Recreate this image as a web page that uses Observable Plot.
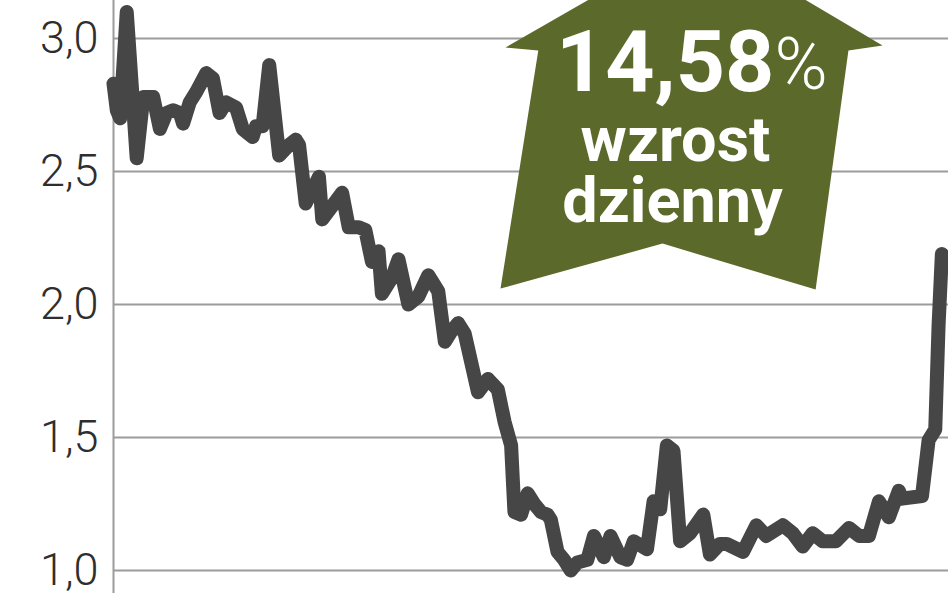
<!DOCTYPE html>
<html>
<head>
<meta charset="utf-8">
<script src="https://cdn.jsdelivr.net/npm/d3@7"></script>
<script src="https://cdn.jsdelivr.net/npm/@observablehq/plot@0.6"></script>
<style>
  html, body { margin: 0; padding: 0; background: #fff; }
  #chart { width: 948px; height: 593px; overflow: hidden; }
</style>
</head>
<body>
<div id="chart"></div>
<script>
// Trading-day index and closing price
const days = [0,1,2,4,7,9,11,12,14,16,18,20,21,23,25,28,30,32,34,37,39,42,43,45,47,50,53,55,56,58,62,63,69,71,74,76,78,80,81,84,86,89,92,95,98,100,102,104,106,110,113,116,118,120,121,123,125,127,129,131,132,134,136,138,140,143,145,148,150,153,155,157,161,163,165,167,169,171,174,178,180,183,185,190,194,197,202,205,208,211,214,218,222,225,228,231,234,237,238,244,246,248,249,250];
const prices = [2.83,2.73,2.70,3.10,2.55,2.78,2.78,2.78,2.66,2.72,2.73,2.72,2.68,2.76,2.80,2.87,2.85,2.72,2.76,2.74,2.66,2.63,2.67,2.67,2.90,2.56,2.60,2.62,2.60,2.38,2.48,2.32,2.42,2.29,2.29,2.28,2.16,2.20,2.04,2.10,2.17,2.00,2.03,2.11,2.05,1.86,1.90,1.93,1.89,1.67,1.72,1.68,1.56,1.47,1.22,1.21,1.29,1.25,1.22,1.21,1.19,1.07,1.04,1.00,1.03,1.04,1.13,1.05,1.13,1.05,1.04,1.11,1.08,1.26,1.23,1.47,1.45,1.11,1.14,1.21,1.06,1.10,1.10,1.07,1.17,1.13,1.17,1.14,1.09,1.14,1.11,1.11,1.16,1.13,1.13,1.26,1.20,1.30,1.27,1.28,1.49,1.53,1.92,2.19];

// Y axis ticks
const yTicks = [1.0, 1.5, 2.0, 2.5, 3.0];

// Annotation: daily growth badge
const badgeValue = "14,58";
const badgeUnit = "%";
const badgeLines = ["wzrost", "dzienny"];

// Arrow outline (day, price) for the badge shape
const arrowDays   = [116.8, 128.2, 118.3, 176.5, 232.1, 221.8, 211.9, 165.7];
const arrowPrices = [2.060, 2.955, 2.966, 3.383, 2.974, 2.955, 2.056, 2.229];

const series = days.map((d, i) => ({day: d, price: prices[i]}));
const arrow = arrowDays.map((d, i) => ({day: d, price: arrowPrices[i]}));

const comma = v => d3.format(".1f")(v).replace(".", ",");

const olive = "#5b6a2b";

const plot = Plot.plot({
  width: 948,
  height: 593,
  marginLeft: 113,
  marginRight: 0,
  marginTop: 0,
  marginBottom: 0,
  style: {fontFamily: "Roboto, 'Noto Sans', sans-serif", background: "#fff"},
  x: {domain: [0, 252], axis: null},
  y: {domain: [0.9135, 3.1429], axis: null},
  marks: [
    Plot.gridY(yTicks, {stroke: "#9c9c9c", strokeOpacity: 1, strokeWidth: 2}),
    Plot.axisY(yTicks, {
      tickSize: 0, tickPadding: 15, fontSize: 45, fontWeight: 300,
      fill: "#2e2e2e", tickFormat: comma, label: null
    }),
    Plot.ruleX([0], {stroke: "#9c9c9c", strokeWidth: 2}),
    Plot.line(series, {
      x: "day", y: "price", stroke: "#464646", strokeWidth: 14,
      strokeLinejoin: "round", strokeLinecap: "round"
    }),
    Plot.line(arrow, {
      x: "day", y: "price", fill: olive, stroke: "none",
      curve: "linear-closed", clip: "frame"
    }),
    Plot.text([badgeValue], {
      x: 166.5, y: 2.908, text: d => d, fill: "#fff",
      fontSize: 86, fontWeight: 700
    }),
    Plot.text([badgeUnit], {
      x: 207.5, y: 2.896, text: d => d, fill: "#fff",
      fontSize: 72, fontWeight: 300
    }),
    Plot.text([badgeLines[0]], {
      x: 169.6, y: 2.617, text: d => d, fill: "#fff",
      fontSize: 63, fontWeight: 700
    }),
    Plot.text([badgeLines[1]], {
      x: 168.7, y: 2.385, text: d => d, fill: "#fff",
      fontSize: 63, fontWeight: 700
    })
  ]
});

document.getElementById("chart").appendChild(plot);
</script>
</body>
</html>
